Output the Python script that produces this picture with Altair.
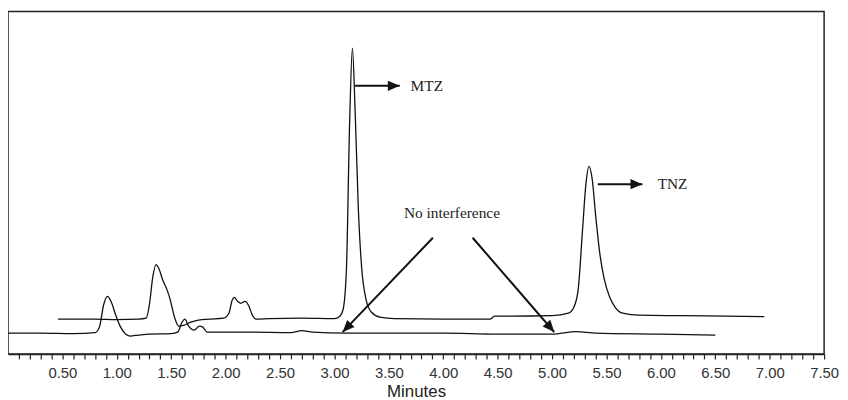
import math
import altair as alt
import pandas as pd

# ---- Chromatogram traces (x: minutes, y: detector response, arbitrary units) ----
upper_x = [0.46, 0.80, 1.00, 1.20, 1.27, 1.30, 1.33, 1.36, 1.39, 1.42, 1.46, 1.49, 1.53, 1.57,
           1.62, 1.68, 1.75, 1.85, 1.98, 2.03, 2.06, 2.08, 2.11, 2.14, 2.18, 2.21, 2.25, 2.28,
           2.40, 2.70, 3.00, 3.05, 3.08, 3.11, 3.14, 3.165, 3.19, 3.22, 3.25, 3.29, 3.34, 3.42,
           3.55, 4.00, 4.43, 4.47, 4.60, 5.00, 5.15, 5.20, 5.24, 5.28, 5.31, 5.34, 5.37, 5.40,
           5.44, 5.48, 5.53, 5.58, 5.65, 5.80, 6.20, 6.60, 6.95]
upper_y = [35, 35, 34.5, 35, 36, 50, 77, 90, 85, 75, 65, 55, 37, 28,
           29, 32, 34, 35, 36, 41, 54, 57, 53, 51, 53, 49, 38, 35,
           35.5, 36, 35.5, 38, 45, 85, 235, 308, 245, 145, 87, 55, 42, 37,
           35.5, 35, 35, 38, 38, 38.5, 41, 47, 65, 125, 170, 189, 175, 140,
           100, 75, 57, 47, 41, 39, 38.5, 38, 37.5]

lower_x = [0.00, 0.30, 0.60, 0.80, 0.84, 0.88, 0.915, 0.95, 0.99, 1.03, 1.08, 1.12, 1.20, 1.30,
           1.50, 1.56, 1.60, 1.625, 1.66, 1.71, 1.76, 1.79, 1.83, 1.90, 2.20, 2.60, 2.70, 2.80,
           3.10, 3.60, 4.00, 4.50, 5.00, 5.22, 5.40, 6.00, 6.50]
lower_y = [21, 21, 20.5, 21.5, 27, 50, 58, 52, 39, 28, 20, 18, 19, 20,
           20.5, 22, 32, 35, 28, 24, 28, 27, 22, 22, 22, 21.5, 23.5, 22,
           21, 21, 21, 20, 20, 22.5, 21, 20, 19]

# ---- Annotations ----
label_names = ["MTZ", "TNZ", "No interference"]
label_x = [3.70, 5.97, 4.08]
label_y = [270, 171, 142]
label_align = ["left", "left", "center"]

arrow_x1 = [3.19, 5.42, 3.905, 4.27]
arrow_y1 = [270, 171, 117, 117]
arrow_x2 = [3.60, 5.83, 3.075, 5.02]
arrow_y2 = [270, 171, 22, 22]

# ---- Axis ----
X_MAX, Y_MAX = 7.5, 345
tick_values = [round(0.1 * i, 1) for i in range(1, 76)]

W, H = 822, 345
INK = "#111111"

traces = pd.concat([
    pd.DataFrame({"t": upper_x, "r": upper_y, "trace": "sample"}),
    pd.DataFrame({"t": lower_x, "r": lower_y, "trace": "blank"}),
])

xs = alt.Scale(domain=[0, X_MAX], nice=False, zero=False)
ys = alt.Scale(domain=[0, Y_MAX], nice=False, zero=False)

lines = alt.Chart(traces).mark_line(color=INK, strokeWidth=1.3, interpolate="monotone").encode(
    x=alt.X("t:Q", scale=xs, title="Minutes",
            axis=alt.Axis(values=tick_values, tickCount=100, grid=False, tickSize=5, tickWidth=1.2,
                          tickColor="#222", domainColor="#222", domainWidth=1.5,
                          labelExpr="abs(datum.value*2 - round(datum.value*2)) < 0.001 ? format(datum.value, '.2f') : ''",
                          labelOverlap=False, labelFlush=False, labelBound=False,
                          labelFont="Liberation Sans",
                          labelFontSize=15, labelColor="#333", labelPadding=7,
                          titleFont="Liberation Sans", titleFontSize=17, titleFontWeight="normal",
                          titleColor="#222", titlePadding=3)),
    y=alt.Y("r:Q", scale=ys, axis=None),
    detail="trace:N",
)

ang = []
for a, b, c, d in zip(arrow_x1, arrow_y1, arrow_x2, arrow_y2):
    dx = (c - a) * W / X_MAX
    dy = -(d - b) * H / Y_MAX
    ang.append(math.degrees(math.atan2(dy, dx)) % 360)

arrows = pd.DataFrame({"x1": arrow_x1, "y1": arrow_y1, "x2": arrow_x2, "y2": arrow_y2, "ang": ang})

shafts = alt.Chart(arrows).mark_rule(color=INK, strokeWidth=2).encode(
    x=alt.X("x1:Q", scale=xs), y=alt.Y("y1:Q", scale=ys),
    x2="x2:Q", y2="y2:Q",
)
heads = alt.Chart(arrows).mark_point(
    shape="M0,0L-2,-0.85L-2,0.85Z", filled=True, size=144, color=INK, opacity=1, strokeWidth=0
).encode(
    x=alt.X("x2:Q", scale=xs), y=alt.Y("y2:Q", scale=ys),
    angle=alt.Angle("ang:Q", scale=None),
)

labels = pd.DataFrame({"name": label_names, "x": label_x, "y": label_y, "al": label_align})
texts = []
for al in ["left", "center"]:
    texts.append(alt.Chart(labels[labels["al"] == al]).mark_text(
        align=al, baseline="middle", font="Liberation Serif", fontSize=15.5, color="#222"
    ).encode(x=alt.X("x:Q", scale=xs), y=alt.Y("y:Q", scale=ys), text="name:N"))

chart = alt.layer(lines, shafts, heads, *texts).properties(
    width=W, height=H,
    autosize=alt.AutoSizeParams(type="none"),
    padding={"left": 0, "top": 2, "right": 16, "bottom": 46},
).configure(
    background="white",
    view=alt.ViewConfig(stroke="#222", strokeWidth=1.5),
)

chart.save("out.html", embed_options={"renderer": "svg", "actions": False})
